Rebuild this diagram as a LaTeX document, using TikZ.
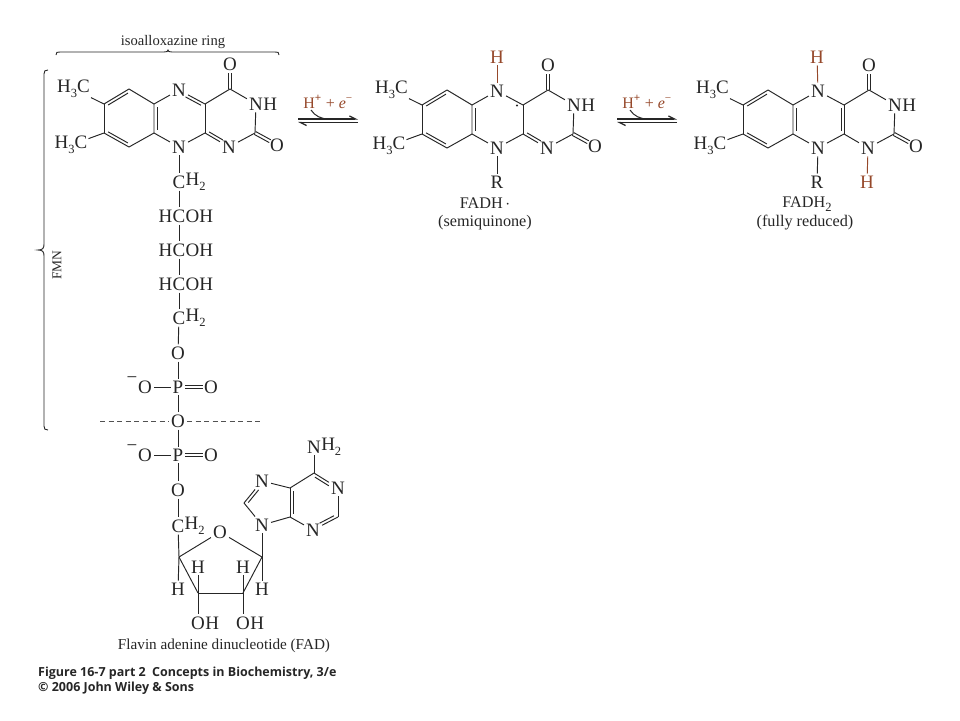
\documentclass[tikz,border=0pt]{standalone}
\usepackage{fontspec}
\setmainfont{Liberation Serif}
\newfontfamily\capfont{Open Sans}
\usetikzlibrary{calc,arrows.meta}
\definecolor{ink}{HTML}{262626}
\definecolor{rust}{HTML}{96492B}
\newcommand{\lowtxt}[1]{\raisebox{-0.28em}{\fontsize{12.5}{12.5}\selectfont #1}}
\newcommand{\dbond}[6]{%
  \draw[bond,shorten <=#5pt,shorten >=#6pt] ($(#1)!#3pt!90:(#2)$) -- ($(#2)!#3pt!-90:(#1)$);
  \draw[bond,shorten <=#5pt,shorten >=#6pt] ($(#1)!#4pt!90:(#2)$) -- ($(#2)!#4pt!-90:(#1)$);}
% second stroke of a double bond: from, to, offset, shorten start, shorten end
\newcommand{\secondline}[5]{%
  \draw[bond,shorten <=#4pt,shorten >=#5pt] ($(#1)!#3pt!90:(#2)$) -- ($(#2)!#3pt!-90:(#1)$);}
\newcommand{\chargetext}{H\textsuperscript{\textbf{+}} + \textit{e}\textsuperscript{−}}
% common part of the ring system
\newcommand{\ringcore}[1]{%
  \coordinate (#1a) at (104,104); \coordinate (#1b) at (129,89);
  \coordinate (#1c) at (154,104); \coordinate (#1d) at (154,133);
  \coordinate (#1e) at (129,147); \coordinate (#1f) at (104,133);
  \coordinate (#1g) at (205,104); \coordinate (#1h) at (205,133);
  \coordinate (#1i) at (230,89);  \coordinate (#1j) at (255,133);
  \node[atom] (#1n5) at (179,90) {N};
  \node[atom] (#1n10) at (179,147) {N};
  \node[atom] (#1o4) at (230,64) {O};
  \node[atom] (#1n3) at (256,104) {N};
  \node[tail] (#1h3) at (#1n3.east) {H};
  \node[atom] (#1o2) at (277,145) {O};
  \node[atom,anchor=east,inner sep=1pt] (#1m1) at (91,89) {H\lowtxt{3}C};
  \node[atom,anchor=east,inner sep=1pt] (#1m2) at (88.5,145) {H\lowtxt{3}C};
  \draw[bond] (#1m1) -- (#1a);
  \draw[bond] (#1m2) -- (#1f);
  \draw[bond] (#1a) -- (#1f);
  \draw[bond] (#1b) -- (#1c) (#1e) -- (#1d);
  \draw[bond] (#1a) -- (#1b) (#1f) -- (#1e) (#1c) -- (#1d);
  \secondline{#1a}{#1b}{-3}{3}{3}
  \secondline{#1f}{#1e}{3}{3}{3}
  \secondline{#1c}{#1d}{3}{3}{3}
  \draw[bond] (#1c) -- (#1n5); \draw[bond] (#1d) -- (#1n10);
  \draw[bond] (#1n10) -- (#1h);
  \draw[bond] (#1g) -- (#1i); \draw[bond] (#1i) -- (#1n3);
  \draw[bond] (#1n3) -- (#1j);
  \dbond{#1i}{#1o4}{1.6}{-1.6}{0}{9}
  \dbond{#1j}{#1o2}{1.6}{-1.6}{0}{8}
}
\tikzset{
  bond/.style={draw=ink,line width=.95pt},
  atom/.style={font=\fontsize{19}{19}\selectfont,text=ink,inner sep=2pt},
  tail/.style={atom,anchor=west,inner sep=0pt,xshift=-2pt},
  head/.style={atom,anchor=east,inner sep=0pt,xshift=2pt},
  redatom/.style={atom,text=rust},
  redbond/.style={draw=rust,line width=.95pt},
  small/.style={font=\fontsize{16.2}{16.2}\selectfont,text=ink,inner sep=0pt},
  caption/.style={font=\capfont\bfseries\fontsize{12.5}{12.5}\selectfont,text=ink,anchor=west,inner sep=0pt},
  eqtext/.style={font=\fontsize{16}{16}\selectfont,text=rust,inner sep=0pt},
  fwd/.style={draw=ink,line width=1.2pt,-{Straight Barb[left,length=6pt,width=6pt]}},
}
\begin{document}
\begin{tikzpicture}[x=1pt,y=-1pt]
\useasboundingbox (0,0) rectangle (960,720);
\fill[white] (0,0) rectangle (960,720);

% --- oxidized ---
\begin{scope}
\ringcore{p}
\node[atom] (pn1) at (229,147) {N};
\draw[bond] (pn5) -- (pg);
\secondline{pn5}{pg}{-3}{9}{3}
\draw[bond] (pg) -- (ph);
\draw[bond] (ph) -- (pn1);
\secondline{ph}{pn1}{3}{3}{9}
\draw[bond] (pn1) -- (pj);
\end{scope}

% --- semiquinone ---
\begin{scope}[shift={(318,1)}]
\ringcore{q}
\node[atom] (qn1) at (229,147) {N};
\node[redatom] (qh5) at (179,56) {H};
\node[atom] (qr) at (179,181) {R};
\draw[redbond] (qh5) -- (qn5);
\draw[bond] (qn5) -- (qg);
\draw[bond] (qg) -- (qh);
\draw[bond] (qh) -- (qn1);
\secondline{qh}{qn1}{3}{3}{9}
\draw[bond] (qn1) -- (qj);
\draw[bond] (qn10) -- (qr);
\fill[ink] (199,104.5) circle (1.1pt);
\node[small] (qname) at (167,202) {FADH\,$\cdot$};
\node[small] (qsub) at (167,222) {(semiquinone)};
\end{scope}

% --- fully reduced ---
\begin{scope}[shift={(639,1)}]
\ringcore{r}
\node[atom] (rn1) at (229,147) {N};
\node[redatom] (rh5) at (178,56) {H};
\node[redatom] (rh1) at (228,181) {H};
\node[atom] (rr) at (178,181) {R};
\draw[redbond] (rh5) -- (rn5);
\draw[redbond] (rn1) -- (rh1);
\draw[bond] (rn5) -- (rg);
\draw[bond] (rg) -- (rh);
\secondline{rg}{rh}{-3}{3}{3}
\draw[bond] (rh) -- (rn1);
\draw[bond] (rn1) -- (rj);
\draw[bond] (rn10) -- (rr);
\node[small] (rname) at (168,203) {FADH\lowtxt{2}};
\node[small] (rsub) at (166,222) {(fully reduced)};
\end{scope}

% --- reaction arrows ---
\coordinate (a1s) at (298,119); \coordinate (a1e) at (358,119);
\coordinate (a1t) at (298,122.5); \coordinate (a1u) at (358,122.5);
\draw[fwd] (a1s) -- (a1e);
\draw[fwd] (a1u) -- (a1t);
\node[eqtext] (e1) at (328,102) {\chargetext};
\coordinate (c1s) at (311,110); \coordinate (c1e) at (329,119);
\draw[draw=ink,line width=1pt] (c1s) .. controls (315,116) and (321,119) .. (c1e);

\coordinate (a2s) at (617,119); \coordinate (a2e) at (677,119);
\coordinate (a2t) at (617,122.5); \coordinate (a2u) at (677,122.5);
\draw[fwd] (a2s) -- (a2e);
\draw[fwd] (a2u) -- (a2t);
\node[eqtext] (e2) at (647,102) {\chargetext};
\coordinate (c2s) at (630,110); \coordinate (c2e) at (648,119);
\draw[draw=ink,line width=1pt] (c2s) .. controls (634,116) and (640,119) .. (c2e);

% --- braces ---
\node[small,font=\fontsize{14.6}{14.6}\selectfont] (iso) at (173,42) {isoalloxazine ring};
\coordinate (b1) at (56,55); \coordinate (b2) at (279,55);
\draw[draw=ink,line width=.9pt] (b1) .. controls (56,52) and (57,52) .. (60,52)
  -- (164,52) .. controls (167,52) and (168,51.5) .. (168,50)
  .. controls (168,51.5) and (169,52) .. (172,52)
  -- (275,52) .. controls (278,52) and (279,52) .. (b2);
\coordinate (f1) at (48,70); \coordinate (f2) at (48,430);
\draw[draw=ink,line width=.9pt] (f1) .. controls (45,70) and (44,71) .. (44,74)
  -- (44,244) .. controls (44,248) and (43,250) .. (38,250)
  .. controls (43,250) and (44,252) .. (44,256)
  -- (44,426) .. controls (44,429) and (45,430) .. (f2);
\node[small,rotate=90,font=\fontsize{13.5}{13.5}\selectfont] (fmn) at (57,265) {FMN};

% --- chain ---
\node[atom] (c1) at (179,182) {C};
\node[tail] (c1h) at (c1.east) {H\lowtxt{2}};
\node[atom] (c2) at (179,216) {C};
\node[head] at (c2.west) {H};
\node[tail] at (c2.east) {OH};
\node[atom] (c3) at (179,250) {C};
\node[head] at (c3.west) {H};
\node[tail] at (c3.east) {OH};
\node[atom] (c4) at (179,284) {C};
\node[head] at (c4.west) {H};
\node[tail] at (c4.east) {OH};
\node[atom] (c5) at (179,318) {C};
\node[tail] at (c5.east) {H\lowtxt{2}};
\node[atom] (o1) at (178,353) {O};
\node[atom] (p1) at (178,387) {P};
\node[atom] (o1r) at (211,387) {O};
\node[atom] (o1l) at (145,387) {O};
\node[atom,inner sep=0pt] at (132,380) {−};
\node[atom,fill=white] (o2) at (178,421) {O};
\node[atom] (p2) at (178,455) {P};
\node[atom] (o2r) at (211,455) {O};
\node[atom] (o2l) at (145,455) {O};
\node[atom,inner sep=0pt] at (132,448) {−};
\node[atom] (o3) at (178,490) {O};
\node[atom] (c6) at (178,526) {C};
\node[tail] (c6h) at (c6.east) {H\lowtxt{2}};

\coordinate (dl) at (100,421); \coordinate (dr) at (260,421);
\draw[draw=ink!80,line width=.9pt,dash pattern=on 5pt off 3.5pt] (dl) -- (o2) (o2) -- (dr);

\draw[bond] (pn10) -- (c1); \draw[bond] (c1) -- (c2); \draw[bond] (c2) -- (c3);
\draw[bond] (c3) -- (c4); \draw[bond] (c4) -- (c5); \draw[bond] (c5) -- (o1);
\draw[bond] (o1) -- (p1); \draw[bond] (p1) -- (o2); \draw[bond] (o2) -- (p2);
\draw[bond] (p2) -- (o3); \draw[bond] (o3) -- (c6);
\draw[bond] (o1l) -- (p1); \draw[bond] (o2l) -- (p2);
\dbond{p1}{o1r}{1.6}{-1.6}{7}{8}
\dbond{p2}{o2r}{1.6}{-1.6}{7}{8}

% --- ribose ---
\node[atom] (ro) at (220,532) {O};
\coordinate (r1) at (262,557); \coordinate (r2) at (243,593);
\coordinate (r3) at (198,593); \coordinate (r4) at (179,557);
\node[atom] (rh1x) at (262,589) {H};
\node[atom] (rh2x) at (243,567) {H};
\node[atom] (rh3x) at (198,567) {H};
\node[atom] (rh4x) at (178,589) {H};
\node[atom] (oh2) at (243,623) {O};
\node[tail] at (oh2.east) {H};
\node[atom] (oh3) at (198,623) {O};
\node[tail] at (oh3.east) {H};
\draw[bond] (ro) -- (r1); \draw[bond] (r1) -- (r2); \draw[bond] (r2) -- (r3);
\draw[bond] (r3) -- (r4); \draw[bond] (r4) -- (ro);
\draw[bond] (c6) -- (r4); \draw[bond] (r4) -- (rh4x);
\draw[bond] (r1) -- (rh1x); \draw[bond] (r2) -- (rh2x); \draw[bond] (r3) -- (rh3x);
\draw[bond] (r2) -- (oh2); \draw[bond] (r3) -- (oh3);

% --- adenine ---
\node[atom] (n9) at (262,525) {N};
\node[atom] (n7) at (262,481) {N};
\node[atom] (n1) at (338,488) {N};
\node[atom] (n3) at (313,530) {N};
\node[atom] (nh) at (314,447) {N};
\node[tail] at (nh.east) {H\lowtxt{2}};
\coordinate (c8) at (244,503); \coordinate (c4a) at (290,517);
\coordinate (c5a) at (290,488); \coordinate (c6a) at (314,473);
\coordinate (c2a) at (338,517);
\draw[bond] (r1) -- (n9);
\draw[bond] (n9) -- (c8); \draw[bond] (c8) -- (n7);
\secondline{c8}{n7}{-3}{3}{9}
\draw[bond] (n7) -- (c5a); \draw[bond] (n9) -- (c4a);
\draw[bond] (c5a) -- (c4a);
\secondline{c5a}{c4a}{3}{3}{3}
\draw[bond] (c5a) -- (c6a);
\draw[bond] (c6a) -- (n1);
\secondline{c6a}{n1}{-3}{3}{9}
\draw[bond] (n1) -- (c2a);
\draw[bond] (c2a) -- (n3);
\secondline{c2a}{n3}{-3}{3}{9}
\draw[bond] (n3) -- (c4a);
\draw[bond] (c6a) -- (nh);

% --- captions ---
\node[small,font=\fontsize{15.2}{15.2}\selectfont] (title) at (224,645.5) {Flavin adenine dinucleotide (FAD)};
\node[caption] (cap1) at (38,673) {Figure 16-7 part 2\enspace Concepts in Biochemistry, 3/e};
\node[caption] (cap2) at (38,688) {© 2006 John Wiley \& Sons};
\end{tikzpicture}
\end{document}
